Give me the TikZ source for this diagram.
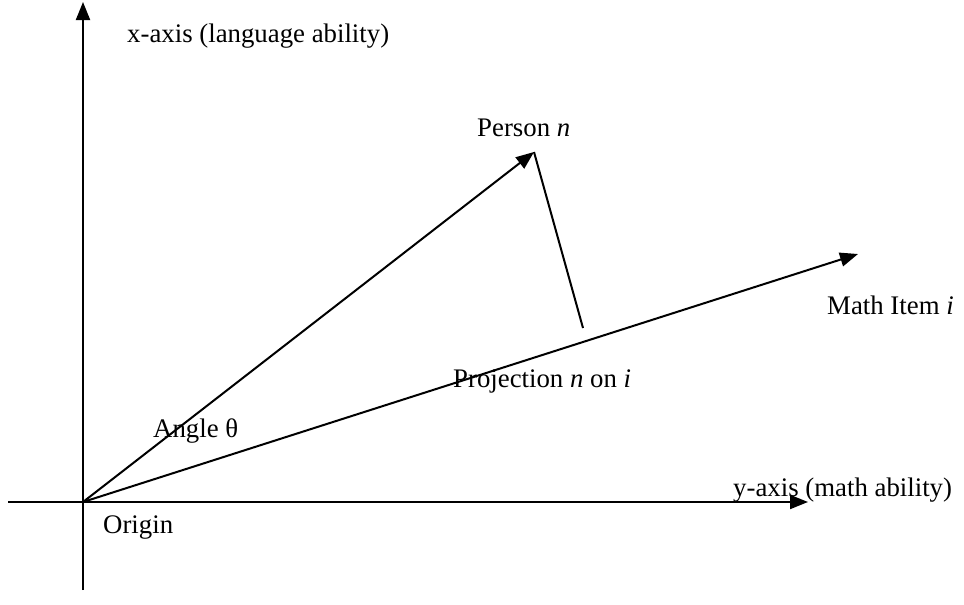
\documentclass[tikz,border=0pt]{standalone}
\usepackage{fontspec}
\setmainfont{Liberation Serif}
\usetikzlibrary{arrows.meta}

\begin{document}
\begin{tikzpicture}[
  x=1pt, y=-1pt,
  axis/.style={line width=2pt},
  vec/.style={line width=2pt, -{Triangle[length=18pt,width=14pt]}},
  lbl/.style={anchor=west, inner sep=0pt, font=\fontsize{26.8}{31}\selectfont}
]
\useasboundingbox (0,0) rectangle (964,605);
\coordinate (o) at (83,502);
\coordinate (xtop) at (83,2);
\coordinate (xbot) at (83,590);
\coordinate (yleft) at (8,502);
\coordinate (yright) at (808,502);
\coordinate (person) at (534,152);
\coordinate (item) at (858,254);
\coordinate (foot) at (583,328);

\draw[axis] (xbot) -- (o);
\draw[vec] (o) -- (xtop);
\draw[axis] (yleft) -- (o);
\draw[vec] (o) -- (yright);
\draw[vec] (o) -- (person);
\draw[vec] (o) -- (item);
\draw[axis] (person) -- (foot);

\node[lbl] (xlabel) at (127,36) {x-axis (language ability)};
\node[lbl] (plabel) at (477,128) {Person \textit{n}};
\node[lbl] (ilabel) at (827,305) {Math Item \textit{i}};
\node[lbl] (projlabel) at (453,381) {Projection \textit{n} on \textit{i}};
\node[lbl] (anglelabel) at (153,431) {Angle θ};
\node[lbl] (ylabel) at (733,490) {y-axis (math ability)};
\node[lbl] (olabel) at (103,528) {Origin};
\end{tikzpicture}
\end{document}
